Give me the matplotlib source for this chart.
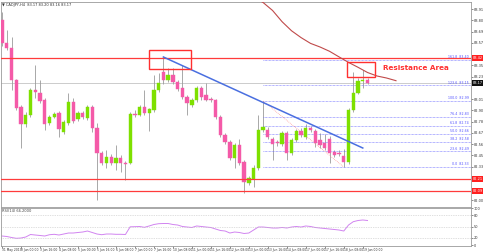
import matplotlib
matplotlib.use("Agg")
import matplotlib.pyplot as plt
import numpy as np
from matplotlib.transforms import blended_transform_factory

# ---------------- data ----------------
opens = [83.80, 83.57, 83.52, 83.20, 82.93, 82.76, 82.85, 83.10, 83.07, 83.00,
         82.77, 82.83, 82.87, 82.68, 82.77, 82.98, 82.81, 82.87, 82.82, 82.93,
         82.72, 82.47, 82.37, 82.43, 82.37, 82.42, 82.37, 82.37, 82.86, 82.85,
         82.93, 82.87, 82.90, 83.10, 83.28, 83.20, 83.25, 83.18, 83.12, 83.03,
         82.95, 83.00, 83.12, 83.05, 83.01, 83.00, 82.83, 82.65, 82.58, 82.42,
         82.55, 82.38, 82.17, 82.21, 82.32, 82.70, 82.70, 82.61, 82.58, 82.56,
         82.67, 82.47, 82.60, 82.69, 82.63, 82.72, 82.69, 82.60, 82.57, 82.61,
         82.48, 82.47, 82.44, 82.38, 82.90, 83.07, 83.19, 83.20]
highs = [83.88, 83.70, 83.63, 83.21, 82.95, 82.88, 83.12, 83.35, 83.20, 83.02,
         82.85, 82.88, 82.89, 82.80, 83.07, 83.02, 82.89, 82.89, 82.95, 82.95,
         82.77, 82.49, 82.50, 82.46, 82.55, 82.45, 82.39, 82.88, 82.90, 82.95,
         83.10, 82.92, 83.25, 83.27, 83.43, 83.32, 83.32, 83.20, 83.35, 83.05,
         83.02, 83.14, 83.14, 83.17, 83.03, 83.01, 82.85, 82.67, 82.60, 82.57,
         82.61, 82.40, 82.24, 82.35, 82.85, 82.99, 82.73, 82.63, 82.60, 82.69,
         82.69, 82.62, 82.71, 82.72, 82.76, 82.74, 82.71, 82.67, 82.66, 82.64,
         82.50, 82.50, 82.51, 82.92, 83.28, 83.22, 83.30, 83.22]
lows = [83.54, 83.50, 83.10, 82.90, 82.52, 82.73, 82.83, 83.02, 82.97, 82.70,
        82.75, 82.82, 82.63, 82.66, 82.75, 82.77, 82.79, 82.81, 82.80, 82.68,
        82.00, 82.35, 82.32, 82.35, 82.30, 82.28, 82.20, 82.36, 82.83, 82.84,
        82.85, 82.69, 82.88, 83.08, 83.16, 83.18, 83.16, 83.09, 83.01, 82.85,
        82.93, 82.98, 83.00, 82.99, 82.98, 82.81, 82.63, 82.56, 82.40, 82.32,
        82.35, 82.07, 82.15, 82.13, 82.30, 82.68, 82.61, 82.40, 82.54, 82.54,
        82.40, 82.45, 82.58, 82.63, 82.61, 82.68, 82.53, 82.52, 82.50, 82.37,
        82.43, 82.44, 82.33, 82.36, 82.88, 83.06, 83.12, 83.16]
closes = [83.57, 83.52, 83.20, 82.92, 82.76, 82.85, 83.10, 83.08, 82.99, 82.76,
          82.83, 82.86, 82.71, 82.78, 82.98, 82.79, 82.87, 82.83, 82.93, 82.72,
          82.47, 82.37, 82.43, 82.37, 82.42, 82.37, 82.365, 82.86, 82.85, 82.93,
          82.87, 82.91, 83.10, 83.17, 83.20, 83.25, 83.18, 83.11, 83.03, 82.97,
          83.00, 83.12, 83.03, 83.00, 83.00, 82.83, 82.65, 82.58, 82.42, 82.55,
          82.37, 82.18, 82.22, 82.32, 82.70, 82.73, 82.63, 82.56, 82.57, 82.67,
          82.47, 82.60, 82.69, 82.65, 82.72, 82.70, 82.57, 82.55, 82.52, 82.47,
          82.45, 82.465, 82.38, 82.90, 83.07, 83.19, 83.195, 83.17]

rsi = [24.3, 23.0, 20.3, 18.1, 18.9, 21.6, 28.4, 27.0, 25.7, 24.3,
       27.8, 28.9, 27.0, 29.7, 32.4, 32.4, 33.8, 35.1, 37.8, 33.8,
       29.7, 27.8, 29.7, 29.7, 28.9, 28.9, 28.4, 49.2, 49.5, 50.0,
       47.8, 51.4, 55.4, 57.6, 58.1, 58.1, 55.4, 54.0, 50.0, 48.6,
       47.3, 51.4, 50.0, 48.6, 47.3, 43.2, 39.2, 37.8, 32.4, 35.1,
       33.8, 31.1, 32.4, 40.5, 48.6, 48.6, 47.3, 45.9, 45.9, 47.3,
       45.9, 48.6, 50.0, 48.6, 51.4, 50.0, 47.3, 45.9, 44.6, 43.2,
       41.9, 40.5, 37.8, 54.0, 63.0, 66.2, 67.6, 66.2]

ma_idx = [53, 55, 57, 59, 61, 63, 65, 67, 69, 71, 73, 75, 77, 79, 81, 83]
ma_val = [84.03, 83.975, 83.895, 83.783, 83.692, 83.624, 83.566, 83.53,
          83.487, 83.431, 83.376, 83.327, 83.275, 83.24, 83.22, 83.193]

trend_idx = [34, 76]
trend_val = [83.43, 82.52]

red_levels = [83.42, 82.21, 82.09]
fib_high = 82.99
fib_low = 82.33
fib_high_idx = 55
fib_low_idx = 72
fib_levels = [0.0, 23.6, 38.2, 50.0, 61.8, 76.4, 100.0, 123.6, 161.8]

box1 = (30.9, 39.8, 83.31, 83.50)
box2 = (72.6, 78.6, 83.233, 83.383)

date_labels = ["31 May 2019", "3 Jun 00:00", "3 Jun 16:00", "4 Jun 08:00",
               "5 Jun 00:00", "5 Jun 16:00", "6 Jun 08:00", "7 Jun 00:00",
               "7 Jun 16:00", "10 Jun 08:00", "11 Jun 00:00", "11 Jun 16:00",
               "12 Jun 08:00", "13 Jun 00:00", "13 Jun 16:00", "14 Jun 08:00",
               "17 Jun 00:00", "17 Jun 16:00", "18 Jun 08:00", "19 Jun 00:00"]

price_ticks = [83.91 - 0.1125 * k for k in range(18)]
rsi_ticks = [100, 80, 50, 20, 0]
rsi_levels = [80, 50, 20]

# ---------------- figure ----------------
W, H = 483, 252
fig = plt.figure(figsize=(W / 100, H / 100), dpi=100)
fig.patch.set_facecolor("white")

def ax_rect(x0, y0, x1, y1):
    return [x0 / W, 1 - y1 / H, (x1 - x0) / W, (y1 - y0) / H]

ax = fig.add_axes(ax_rect(0.5, 2, 471, 207))
ax2 = fig.add_axes(ax_rect(0.5, 208, 471, 246))

n = len(opens)
idx = np.arange(n)
xlim = (-0.32, 98.8)

PINK = "#f45aa8"
GREEN = "#7ee000"
WICK = "#9a9a9a"

# wicks
ax.vlines(idx, lows, highs, color=WICK, lw=0.6, zorder=2)
# bodies
o = np.array(opens); c = np.array(closes)
bottoms = np.minimum(o, c)
heights = np.maximum(np.abs(c - o), 0.008)
cols = [GREEN if cc > oo else PINK for oo, cc in zip(o, c)]
ax.bar(idx, heights, bottom=bottoms, width=0.7, color=cols,
       edgecolor=cols, linewidth=0.3, zorder=3)

# red horizontal lines
for lv in red_levels:
    ax.axhline(lv, color="#ff3b3b", lw=0.9, zorder=4)

# current price line
ax.axhline(closes[-1], color="#b8b8b8", lw=0.5, zorder=1)

# fib levels
for lv in fib_levels:
    p = fib_low + (fib_high - fib_low) * lv / 100.0
    ax.plot([fib_high_idx, xlim[1]], [p, p], color="#6a6aff", lw=0.5,
            ls=(0, (1, 1)), zorder=2)
    ax.text(xlim[1] - 0.4, p + 0.008, f"{lv:.1f}  {p:.2f}", fontsize=2.3,
            color="#5050ff", ha="right", va="bottom", zorder=5)
ax.plot([fib_high_idx, fib_low_idx], [fib_high, fib_low], color="#ff8080",
        lw=0.5, ls=(0, (1, 1.5)), zorder=2)

# trend line
ax.plot(trend_idx, trend_val, color="#4a6fe0", lw=1.1, zorder=4)

# moving average
ax.plot(ma_idx, ma_val, color="#c04a4a", lw=0.8, zorder=4)

# boxes
for (xa, xb, ya, yb) in (box1, box2):
    ax.add_patch(plt.Rectangle((xa, ya), xb - xa, yb - ya, fill=False,
                               edgecolor="#ff3030", lw=1.0, zorder=5))
ax.text(80.3, 83.32, "Resistance Area", color="#ff3030", fontsize=5.2,
        fontweight="bold", ha="left", va="center", zorder=6)

tag_levels = red_levels + [closes[-1]]
shown_ticks = [t for t in price_ticks
               if all(abs(t - lv) > 0.06 for lv in tag_levels)]

ax.set_xlim(*xlim)
ax.set_ylim(81.93, 83.98)
ax.yaxis.tick_right()
ax.set_yticks(shown_ticks)
ax.set_yticklabels([f"{t:.2f}" for t in shown_ticks])
ax.tick_params(axis="y", labelsize=2.5, length=1.2, width=0.4, pad=0.6,
               colors="#333333")
ax.set_xticks([])
for s in ax.spines.values():
    s.set_color("#9a9a9a"); s.set_linewidth(0.6)

# price tags on axis
tr = blended_transform_factory(ax.transAxes, ax.transData)
for lv in red_levels:
    ax.text(1.003, lv, f"{lv:.2f}", transform=tr, fontsize=2.5, color="white",
            ha="left", va="center", clip_on=False,
            bbox=dict(boxstyle="square,pad=0.2", fc="#ff2020", ec="none"))
ax.text(1.003, closes[-1], f"{closes[-1]:.2f}", transform=tr, fontsize=2.5,
        color="white", ha="left", va="center", clip_on=False,
        bbox=dict(boxstyle="square,pad=0.2", fc="#111111", ec="none"))

# title
ax.text(0.004, 0.995, "\u25BC CADJPY,H4  83.17 83.20 83.16 83.17",
        transform=ax.transAxes, fontsize=2.6, color="#333333",
        ha="left", va="top")

# ---------------- RSI ----------------
ax2.plot(idx, rsi, color="#d184f0", lw=0.7)
for lv in rsi_levels:
    ax2.axhline(lv, color="#c0c0c0", lw=0.5, ls=(0, (1, 1.5)))
ax2.set_xlim(*xlim)
ax2.set_ylim(-2.7, 100)
ax2.yaxis.tick_right()
ax2.set_yticks(rsi_ticks)
ax2.set_yticklabels([str(t) for t in rsi_ticks])
ax2.tick_params(axis="y", labelsize=2.5, length=1.2, width=0.4, pad=0.6,
                colors="#333333")
ax2.set_xticks(np.arange(0, n, 4)[:len(date_labels)])
ax2.set_xticklabels(date_labels, ha="left")
ax2.tick_params(axis="x", labelsize=2.2, length=1.2, width=0.4, pad=0.6,
                colors="#333333")
for s in ax2.spines.values():
    s.set_color("#9a9a9a"); s.set_linewidth(0.6)
ax2.text(0.004, 0.97, f"RSI(14) {rsi[-1]:.4f}", transform=ax2.transAxes,
         fontsize=2.6, color="#444444", ha="left", va="top")

fig.savefig("out.png", dpi=100, facecolor="white")
